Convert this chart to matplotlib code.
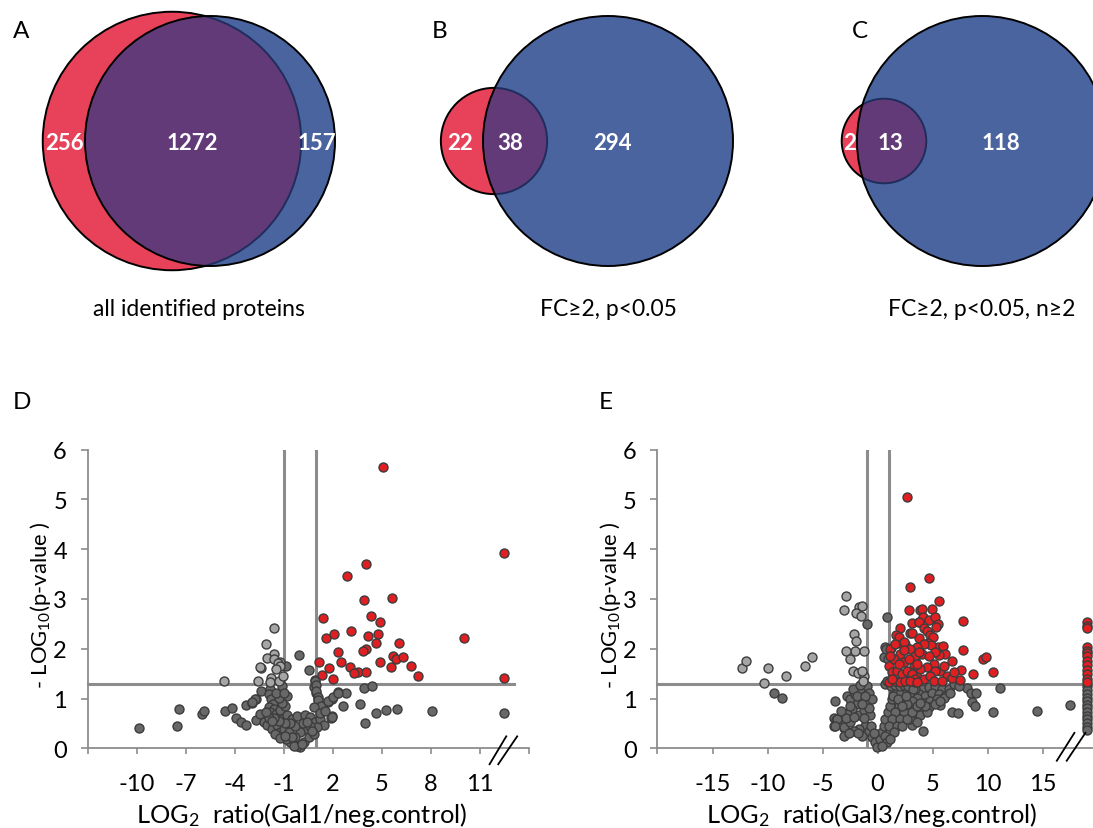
import numpy as np
import matplotlib.pyplot as plt
from matplotlib.patches import Circle

plt.rcParams['font.family'] = ['Lato', 'DejaVu Sans']
plt.rcParams['mathtext.default'] = 'regular'

# ---------------------------------------------------------
# Venn data: (only red, both, only blue)
# ---------------------------------------------------------
venn_names = ["A", "B", "C"]
venn_captions = ["all identified proteins", "FC\u22652, p<0.05", "FC\u22652, p<0.05, n\u22652"]
venn_counts = [(256, 1272, 157), (22, 38, 294), (2, 13, 118)]

# ---------------------------------------------------------
# Volcano D (Gal1) : up (red), down (light grey), rest (dark grey)
# ---------------------------------------------------------
d_up_x = [5.06, 12.52, 4.07, 2.89, 5.63, 3.94, 4.37, 1.41, 4.92, 3.10, 2.06, 4.79, 4.16, 1.56, 10.03,
          6.06, 4.64, 4.03, 3.84, 2.30, 5.70, 5.87, 6.29, 1.16, 2.53, 4.92, 3.08, 6.82, 5.55, 1.79,
          3.52, 3.29, 4.01, 1.35, 7.22, 2.00, 12.52]
d_up_y = [5.66, 3.92, 3.70, 3.47, 3.03, 2.98, 2.66, 2.61, 2.53, 2.35, 2.30, 2.30, 2.26, 2.21, 2.21,
          2.12, 2.12, 2.00, 1.96, 1.94, 1.86, 1.79, 1.84, 1.74, 1.74, 1.73, 1.64, 1.65, 1.63, 1.61,
          1.54, 1.51, 1.53, 1.48, 1.46, 1.39, 1.41]

d_down_x = [-1.62, -2.07, -2.37, -2.44, -1.62, -2.03, -1.58, -1.25, -1.35, -1.21, -1.50, -1.80,
            -1.82, -1.27, -2.58, -4.63, -1.05]
d_down_y = [2.42, 2.09, 1.61, 1.64, 1.90, 1.81, 1.79, 1.74, 1.71, 1.66, 1.59, 1.42,
            1.33, 1.35, 1.35, 1.35, 1.45]

d_ns_x = [-9.85, -7.55, -7.44, -5.99, -5.86, -4.59, -4.17, -3.91, -3.60, -3.34, -3.32, -2.96, -2.71,
          -2.67, -0.84, -0.06, 0.53, 0.90, 0.86, 0.99, 1.07, 1.24, 1.96, 1.90, 1.69, 1.96, 2.32,
          2.82, 2.61, 3.92, 4.41, 3.69, 3.98, 4.66, 5.25, 5.91, 8.11, 12.52,
          -2.37, -2.74, -2.95, -2.44, -1.82, -1.93, -1.76, -1.66, -1.93, -1.62, -1.86, -1.45,
          -1.21, -0.90, -0.80, -1.11, -1.31, -1.45, -2.23, -2.03, -1.72, -1.41, -1.11, -0.80,
          -0.49, -0.19, 0.33, 0.63, 0.94, 1.25, 1.45, 1.04, 0.43, 0.02, -0.29, -0.60, -0.84,
          0.02, -0.19, 0.22, 0.53, 0.84, -1.21, -1.52, -1.00, -0.70, -0.49, 0.94, 1.00, 0.96,
          1.08, 1.14, 1.08, 1.31, 0.84, 1.72, 2.02, 2.31, 1.96,
          -1.10, -1.00, -0.30, 0.20, -0.60, 0.60, -0.90, -1.30, -1.60, -1.90, -0.40, 0.10,
          -1.20, -0.95, -1.70, -2.10, 0.45, 0.75, 1.20, 1.50]
d_ns_y = [0.41, 0.44, 0.79, 0.68, 0.74, 0.75, 0.80, 0.61, 0.52, 0.47, 0.87, 0.91, 0.99,
          0.56, 1.65, 1.87, 1.57, 1.38, 1.24, 1.12, 1.00, 0.86, 0.64, 0.60, 0.94, 1.00, 1.13,
          1.11, 0.84, 1.21, 1.25, 0.90, 0.50, 0.71, 0.76, 0.78, 0.74, 0.70,
          1.16, 0.99, 0.94, 0.69, 1.19, 1.09, 0.99, 0.89, 0.82, 0.79, 0.72, 0.69,
          0.76, 0.84, 1.06, 0.92, 1.02, 1.11, 0.52, 0.46, 0.39, 0.46, 0.59, 0.66,
          0.59, 0.64, 0.66, 0.62, 0.52, 0.59, 0.46, 0.42, 0.39, 0.32, 0.22, 0.12, 0.19,
          0.02, 0.05, 0.12, 0.22, 0.29, 0.32, 0.29, 0.39, 0.32, 0.22, 1.36, 1.27, 1.16,
          1.04, 0.87, 0.97, 0.84, 0.82, 0.96, 1.04, 1.12, 0.62,
          1.25, 1.12, 0.45, 0.50, 0.50, 0.45, 0.50, 0.55, 0.60, 0.60, 0.05, 0.08,
          0.20, 0.25, 0.55, 0.72, 0.52, 0.35, 0.70, 0.75]

# ---------------------------------------------------------
# Volcano E (Gal3)
# ---------------------------------------------------------
e_up_x = [2.70, 4.72, 2.92, 5.58, 7.80, 7.80, 9.60, 9.85, 8.67, 10.53,
          2.83, 3.89, 3.13, 3.74, 2.07, 1.68, 1.98, 2.92, 3.74, 2.22, 2.53, 1.22,
          4.92, 4.04, 4.13, 4.65, 5.19, 3.80, 5.47, 5.35, 4.25, 4.50, 4.80, 5.04, 4.59, 3.13,
          3.80, 5.47, 5.92, 4.86,
          6.16, 5.56, 5.25, 4.19, 3.59, 7.59, 6.77, 3.44, 4.04, 4.65, 5.10, 4.50, 3.89, 3.29,
          5.71, 6.32, 6.77, 7.53, 6.92, 6.01, 5.25, 2.98, 3.59, 4.19, 4.80, 5.10, 5.86, 3.44, 3.13,
          1.16, 1.62, 2.38, 2.07, 2.98, 3.44, 3.74, 1.03, 1.32, 1.77, 2.22, 2.68, 3.13, 3.44,
          1.03, 1.62, 2.07, 2.53, 2.98, 3.59, 1.47, 2.38, 2.83, 3.59, 1.92, 1.10, 1.30, 2.45,
          19.0, 19.0, 19.0, 19.0, 19.0, 19.0, 19.0, 19.0, 19.0, 19.0, 19.0, 19.0, 19.0]
e_up_y = [5.04, 3.42, 3.25, 2.95, 2.55, 1.98, 1.79, 1.84, 1.49, 1.53,
          2.78, 2.78, 2.51, 2.54, 2.41, 2.28, 2.23, 2.31, 2.21, 2.09, 2.09, 2.01,
          2.80, 2.79, 2.64, 2.58, 2.64, 2.53, 2.49, 2.43, 2.41, 2.36, 2.28, 2.23, 2.11, 2.31,
          2.04, 2.04, 2.05, 2.08,
          1.90, 1.87, 1.94, 2.10, 2.03, 1.58, 1.76, 1.79, 1.89, 1.86, 1.69, 1.63, 1.59, 1.66,
          1.56, 1.46, 1.41, 1.38, 1.53, 1.66, 1.56, 1.53, 1.43, 1.39, 1.46, 1.36, 1.36, 1.33, 1.39,
          2.00, 2.10, 2.13, 1.89, 2.00, 1.86, 1.93, 1.66, 1.53, 1.56, 1.49, 1.56, 1.49, 1.39,
          1.33, 1.36, 1.33, 1.36, 1.36, 1.33, 1.79, 1.73, 1.79, 1.69, 1.69, 1.85, 1.40, 1.98,
          2.53, 2.46, 2.41, 2.03, 1.96, 1.91, 1.85, 1.75, 1.68, 1.58, 1.49, 1.39, 1.33]

e_down_x = [-12.29, -12.00, -9.95, -10.30, -8.28, -6.61, -5.97, -3.08, -2.89, -1.71, -1.41, -1.96,
            -1.53, -2.11, -1.93, -2.02, -1.26, -2.87, -2.53, -2.26, -1.81, -1.26, -1.41, -1.32]
e_down_y = [1.62, 1.76, 1.61, 1.32, 1.45, 1.65, 1.83, 2.77, 3.07, 2.83, 2.85, 2.72,
            2.65, 2.30, 2.15, 1.95, 1.96, 1.95, 1.79, 1.55, 1.51, 1.46, 1.55, 1.36]

e_ns_x = [-0.93, 0.89, 0.71, 0.56, 0.80, 0.71, -9.43, -8.70, -3.85, -3.98, -3.79, -3.95, -2.89, -3.02,
          14.51, 17.46, 10.53, 11.10, 8.13, 8.50, 8.95, 8.59, 8.83, 6.77, 7.28, 5.71, 4.10, 3.13,
          3.44, 4.04, 4.65, 5.25, 5.86, 6.47, 6.92, 7.38, 3.74, 4.35, 4.95, 5.56, 6.16, 3.59, 4.19,
          4.80, 5.41, 6.01, 3.44, 4.04, 4.65, 5.25, 3.29, 3.89, 4.50, 2.98, 3.59, 4.35, 6.62, 5.71,
          -2.78, -2.47, -2.02, -1.56, -0.96, -1.41, -0.81, -1.87, -2.32, -2.78, -3.23, -3.69, -3.84,
          -3.08, -2.47, -1.71, -1.26, -0.96, -0.50, -0.65, -1.11, -0.81, -0.50, -0.20, -0.05, 0.25,
          0.41, 0.56, 0.71, 0.92, 1.16, 1.32, 1.47, 1.77, 2.07, 2.38, 1.92, 1.62, 1.32, 1.01, 0.71,
          0.86, 0.41, 2.68, 2.98, 3.44, 3.59, 3.13, 2.68, 2.38, 2.07, 1.77, 1.47, 1.16, 2.22, 2.68,
          3.13, 3.59, 3.83, -1.41, -1.71, -2.17, -3.08,
          1.20, 1.60, 2.00, 2.40, 2.80, 3.20, 1.40, 1.90, 2.20, 2.60, -2.20, -1.60, -1.90, -2.50,
          -3.30, -2.90, -1.10, -0.80, -1.40, -1.20, -2.10, -0.60, -0.30, -1.80, -2.60, 0.95, 0.90,
          19.0, 19.0, 19.0, 19.0, 19.0, 19.0, 19.0, 19.0, 19.0, 19.0, 19.0, 19.0, 19.0]
e_ns_y = [2.50, 2.64, 2.03, 1.83, 1.99, 1.29, 1.11, 1.02, 0.96, 0.60, 0.57, 0.44, 0.34, 0.40,
          0.74, 0.87, 0.72, 1.21, 1.22, 1.11, 1.11, 0.94, 0.86, 0.72, 0.71, 0.87, 0.35, 0.47,
          1.26, 1.19, 1.23, 1.26, 1.19, 1.19, 1.29, 1.26, 1.09, 1.06, 1.12, 1.09, 1.06, 0.96, 0.92,
          0.96, 0.99, 1.02, 0.82, 0.79, 0.82, 0.89, 0.69, 0.66, 0.72, 0.59, 0.52, 0.86, 1.12, 0.96,
          1.06, 0.99, 1.09, 1.19, 1.26, 1.02, 1.12, 0.89, 0.79, 0.69, 0.59, 0.59, 0.45,
          0.42, 0.52, 0.66, 0.76, 0.89, 0.99, 0.66, 0.45, 0.35, 0.22, 0.12, 0.02, 0.19,
          0.32, 0.45, 0.59, 0.72, 0.86, 0.99, 1.12, 1.19, 1.09, 0.99, 0.86, 0.72, 0.59, 0.45, 0.25,
          0.12, 0.05, 1.19, 1.12, 1.19, 1.02, 0.96, 0.89, 0.72, 0.59, 0.45, 0.32, 0.19, 0.45, 0.59,
          0.72, 0.86, 0.92, 0.25, 0.39, 0.35, 0.25,
          1.25, 1.28, 1.25, 1.27, 1.25, 1.20, 1.05, 1.00, 0.85, 1.05, 1.20, 1.28, 1.05, 0.85,
          0.75, 0.60, 1.05, 0.80, 0.90, 0.60, 0.62, 0.45, 0.30, 0.30, 0.30, 1.80, 1.35,
          1.25, 1.18, 1.10, 1.02, 0.95, 0.88, 0.80, 0.72, 0.65, 0.58, 0.50, 0.43, 0.37]

# ---------------------------------------------------------
# Colours
# ---------------------------------------------------------
RED = '#e8425a'
BLUE = '#4a64a0'
PURPLE = '#623a78'
NAVY = '#1f2d5c'
UP = '#e01f22'
DOWN = '#a5a5a5'
NS = '#686868'
EDGE = '#3c3c3c'
AXIS = '#8c8c8c'

W, H = 1093, 829
fig = plt.figure(figsize=(W / 100, H / 100), dpi=100)

# =========================================================
# Venn diagrams (top row), axes in pixel units
# =========================================================
top_h = 440
axv = fig.add_axes([0, 1 - top_h / H, 1, top_h / H])
axv.set_xlim(0, W)
axv.set_ylim(top_h, 0)
axv.axis('off')

R_BLUE = 125
cy = 142
blue_cx = [210, 608, 982]
center_gap = [38, 114, 98]
letter_x = [13, 432, 852]
label_x = [(64, 192, 317), (460, 510, 612), (850, 890, 1001)]

for i, (a_only, both, b_only) in enumerate(venn_counts):
    r_red = R_BLUE * np.sqrt((a_only + both) / (b_only + both))
    bx = blue_cx[i]
    rx = bx - center_gap[i]
    axv.add_patch(Circle((rx, cy), r_red, facecolor=RED, edgecolor='black', lw=1.4, zorder=1))
    blue = Circle((bx, cy), R_BLUE, facecolor=BLUE, edgecolor='none', zorder=2)
    axv.add_patch(blue)
    inter = Circle((rx, cy), r_red, facecolor=PURPLE, edgecolor=NAVY, lw=1.4, zorder=3)
    axv.add_patch(inter)
    inter.set_clip_path(blue)
    axv.add_patch(Circle((bx, cy), R_BLUE, facecolor='none', edgecolor='black', lw=1.4, zorder=4))

    for x, n in zip(label_x[i], (a_only, both, b_only)):
        axv.text(x, 149.5, str(n), color='white', fontsize=16, fontweight='bold',
                 ha='center', va='baseline', zorder=5)
    axv.text(letter_x[i], 38, venn_names[i], fontsize=17.5, ha='left', va='baseline')
    axv.text(blue_cx[i] if i else 199, 316, venn_captions[i], fontsize=16.5,
             ha='center', va='baseline')

axv.text(13, 409, 'D', fontsize=17.5, ha='left', va='baseline')
axv.text(599, 409, 'E', fontsize=17.5, ha='left', va='baseline')

# =========================================================
# Volcano plots
# =========================================================
def volcano(ax, up_x, up_y, down_x, down_y, ns_x, ns_y, xlim, xticks, xlabels, hline_end):
    ax.set_xlim(*xlim)
    ax.set_ylim(0, 6)
    for s in ['top', 'right']:
        ax.spines[s].set_visible(False)
    for s in ['left', 'bottom']:
        ax.spines[s].set_color(AXIS)
        ax.spines[s].set_linewidth(1.3)
    ax.set_xticks(xticks)
    ax.set_xticklabels(xlabels)
    ax.set_yticks(range(7))
    ax.tick_params(axis='x', length=4.5, width=1.2, color=AXIS, pad=13, labelsize=17)
    ax.tick_params(axis='y', length=5, width=1.2, color=AXIS, pad=10, labelsize=17)

    ax.axvline(-1, color=AXIS, lw=2.2, zorder=1)
    ax.axvline(1, color=AXIS, lw=2.2, zorder=1)
    ax.plot([xlim[0], hline_end], [1.3, 1.3], color=AXIS, lw=2.2, zorder=1, clip_on=False)

    kw = dict(s=42, edgecolors=EDGE, linewidths=1.0, clip_on=False)
    ax.scatter(ns_x, ns_y, c=NS, zorder=3, **kw)
    ax.scatter(down_x, down_y, c=DOWN, zorder=4, **kw)
    ax.scatter(up_x, up_y, c=UP, zorder=5, **kw)


# panel D
axd = fig.add_axes([87.8 / W, 79.7 / H, 440.8 / W, 298.6 / H])
d_ticks = list(range(-13, 15, 3))
d_labels = ['' if t in (-13, 14) else str(t) for t in d_ticks]
volcano(axd, d_up_x, d_up_y, d_down_x, d_down_y, d_ns_x, d_ns_y,
        (-13, 14), d_ticks, d_labels, 13.1)
for x0, x1 in [(11.61, 12.63), (12.14, 13.30)]:
    axd.plot([x0, x1], [-0.32, 0.24], color='black', lw=1.3, clip_on=False, zorder=6)

# panel E
axe = fig.add_axes([657.5 / W, 79.7 / H, 435.5 / W, 298.6 / H])
e_ticks = list(range(-20, 20, 5))
e_labels = ['' if t == -20 else str(t) for t in e_ticks]
volcano(axe, e_up_x, e_up_y, e_down_x, e_down_y, e_ns_x, e_ns_y,
        (-20, 19.59), e_ticks, e_labels, 19.59)
for x0, x1 in [(16.3, 17.9), (17.2, 18.9)]:
    axe.plot([x0, x1], [-0.25, 0.31], color='black', lw=1.3, clip_on=False, zorder=6)

for ax, lab, xc in [(axd, 'Gal1', 0.486), (axe, 'Gal3', 0.491)]:
    ax.text(xc, -0.246, r'LOG$_{2}$  ratio(' + lab + '/neg.control)', transform=ax.transAxes,
            fontsize=18.3, ha='center', va='baseline')
    ax.text(-0.107, 0.483, r'- LOG$_{10}$(p-value )', transform=ax.transAxes,
            fontsize=15.8, rotation=90, ha='center', va='center')

fig.savefig('out.png', dpi=100)
